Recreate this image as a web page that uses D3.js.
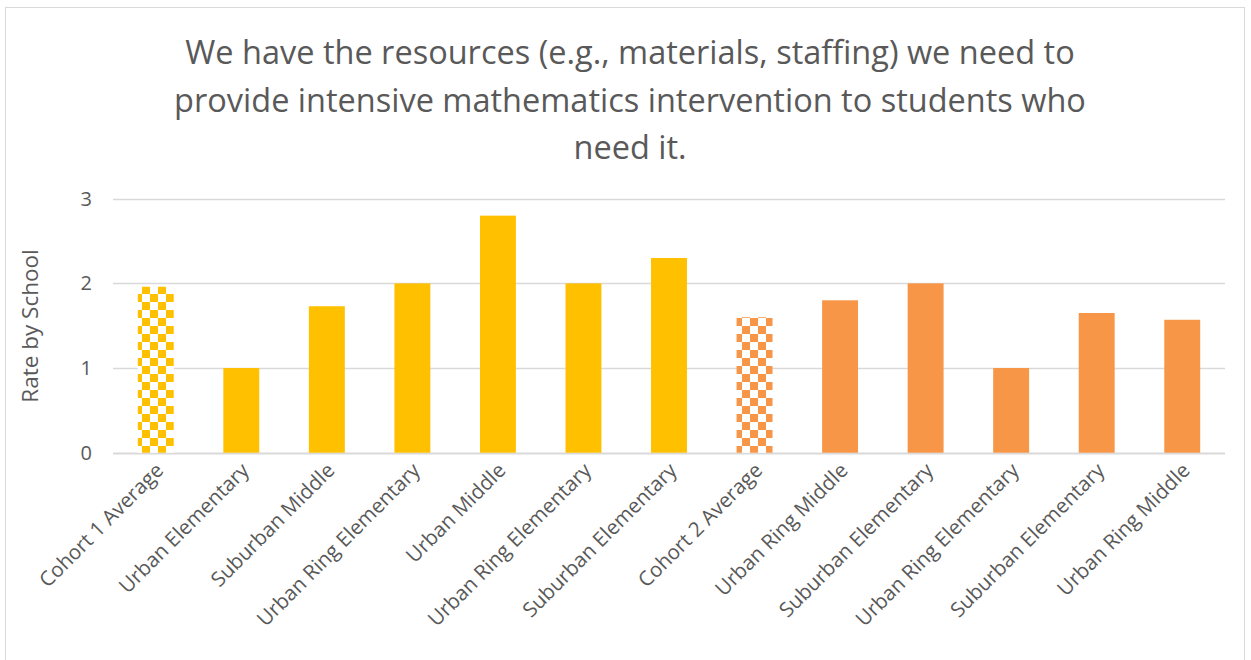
<!DOCTYPE html>
<html>
<head>
<meta charset="utf-8">
<script src="https://cdn.jsdelivr.net/npm/d3@7"></script>
<style>
  html, body { margin: 0; padding: 0; background: #fff; }
  svg { display: block; font-family: "Open Sans", "Noto Sans", sans-serif; }
</style>
</head>
<body>
<svg id="chart" width="1251" height="660"></svg>
<script>
// Schools and their average rating, cohort averages first in each group
const categories = [
  "Cohort 1 Average", "Urban Elementary", "Suburban Middle", "Urban Ring Elementary",
  "Urban Middle", "Urban Ring Elementary", "Suburban Elementary",
  "Cohort 2 Average", "Urban Ring Middle", "Suburban Elementary",
  "Urban Ring Elementary", "Suburban Elementary", "Urban Ring Middle"
];
const values = [1.96, 1, 1.73, 2, 2.8, 2, 2.3, 1.6, 1.8, 2, 1, 1.65, 1.57];
const cohorts = [1, 1, 1, 1, 1, 1, 1, 2, 2, 2, 2, 2, 2];
const isAverage = [true, false, false, false, false, false, false, true, false, false, false, false, false];
const yTicks = [0, 1, 2, 3];
const titleLines = [
  "We have the resources (e.g., materials, staffing) we need to",
  "provide intensive mathematics intervention to students who",
  "need it."
];
const yTitle = "Rate by School";

const colors = { 1: "#FFC000", 2: "#F79646" };
const textColor = "#595959";
const gridColor = "#D9D9D9";

const svg = d3.select("#chart");

// chart frame
svg.append("rect")
  .attr("x", 5.5).attr("y", 7.5)
  .attr("width", 1239).attr("height", 670)
  .attr("fill", "#fff").attr("stroke", "#D9D9D9").attr("stroke-width", 1);

// checkered fills for the cohort averages
const defs = svg.append("defs");
[1, 2].forEach(c => {
  const p = defs.append("pattern")
    .attr("id", "checker" + c)
    .attr("patternUnits", "userSpaceOnUse")
    .attr("x", 6).attr("y", 6)
    .attr("width", 16).attr("height", 16);
  p.append("rect").attr("width", 16).attr("height", 16).attr("fill", "#fff");
  p.append("rect").attr("x", 0).attr("y", 0).attr("width", 8).attr("height", 8).attr("fill", colors[c]);
  p.append("rect").attr("x", 8).attr("y", 8).attr("width", 8).attr("height", 8).attr("fill", colors[c]);
});

const x = d3.scaleBand()
  .domain(d3.range(categories.length))
  .range([113, 1225])
  .paddingInner(0.58)
  .paddingOuter(0.29);

const y = d3.scaleLinear().domain([0, 3]).range([452.7, 198.7]);

// gridlines
svg.append("g")
  .selectAll("line")
  .data(yTicks)
  .join("line")
  .attr("x1", 113).attr("x2", 1225)
  .attr("y1", d => Math.round(y(d)) + 0.5)
  .attr("y2", d => Math.round(y(d)) + 0.5)
  .attr("stroke", gridColor).attr("stroke-width", d => d === 0 ? 2 : 1.3);

// y axis labels
const yAxis = d3.axisLeft(y).tickValues(yTicks).tickSize(0).tickPadding(0).tickFormat(d3.format("d"));
svg.append("g")
  .attr("transform", "translate(92,0)")
  .call(yAxis)
  .call(g => g.select(".domain").remove())
  .selectAll("text")
  .attr("fill", textColor)
  .attr("font-size", 20)
  .attr("font-family", '"Open Sans", sans-serif');

// bars
svg.append("g")
  .selectAll("rect")
  .data(values)
  .join("rect")
  .attr("x", (d, i) => x(i))
  .attr("width", x.bandwidth())
  .attr("y", d => y(d))
  .attr("height", d => y(0) - y(d))
  .attr("fill", (d, i) => isAverage[i] ? `url(#checker${cohorts[i]})` : colors[cohorts[i]]);

// category labels, rotated
const xAxis = d3.axisBottom(x).tickSize(0).tickPadding(0).tickFormat(i => categories[i]);
svg.append("g")
  .attr("transform", `translate(0,${y(0)})`)
  .call(xAxis)
  .call(g => g.select(".domain").remove())
  .selectAll("text")
  .attr("fill", textColor)
  .attr("font-size", 20.5)
  .attr("font-family", '"Open Sans", sans-serif')
  .attr("text-anchor", "end")
  .attr("dy", null)
  .attr("y", 0)
  .attr("transform", "translate(9,19) rotate(-45)");

// y axis title
svg.append("text")
  .attr("transform", "translate(38,326) rotate(-90)")
  .attr("text-anchor", "middle")
  .attr("fill", textColor)
  .attr("font-size", 22.5)
  .text(yTitle);

// title
svg.append("g")
  .selectAll("text")
  .data(titleLines)
  .join("text")
  .attr("x", 630)
  .attr("y", (d, i) => 64 + i * 47.5)
  .attr("text-anchor", "middle")
  .attr("fill", textColor)
  .attr("font-size", 32.5)
  .text(d => d);
</script>
</body>
</html>
